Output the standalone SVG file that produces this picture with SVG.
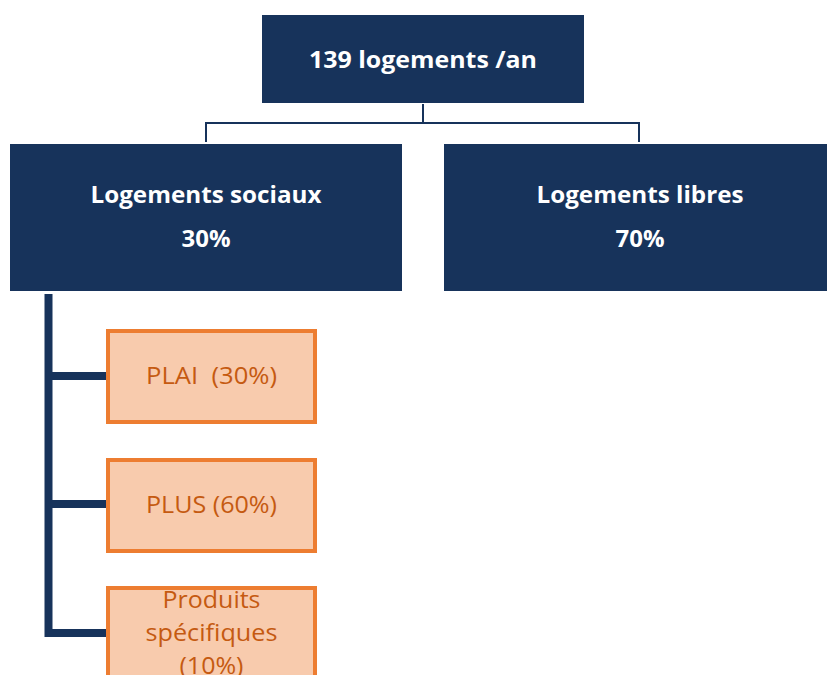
<svg xmlns="http://www.w3.org/2000/svg" width="827" height="675" viewBox="0 0 827 675">
<style>
.navy{fill:#17335B;}
.wt{fill:#FFFFFF;font-family:"Open Sans","Liberation Sans",sans-serif;font-weight:bold;font-size:23px;text-anchor:middle;}
.or{fill:#F8CBAD;stroke:#ED7D31;stroke-width:4;}
.ot{fill:#C55A11;font-family:"Open Sans","Liberation Sans",sans-serif;font-size:23px;text-anchor:middle;}
.thin{fill:none;stroke:#17335B;stroke-width:2;}
.thick{fill:none;stroke:#17335B;stroke-width:8;}
</style>
<rect width="827" height="675" fill="#FFFFFF"/>
<g id="connectors">
<path class="thin" d="M423,104 V123 M206,142 V123 H639 V142"/>
<path class="thick" d="M48.5,294 V633 H106 M48.5,376 H106 M48.5,504 H106"/>
</g>
<g id="n-total">
<rect class="navy" x="262" y="15" width="322" height="88"/>
<text class="wt" x="423" y="68" textLength="228" lengthAdjust="spacingAndGlyphs">139 logements /an</text>
</g>
<g id="n-sociaux">
<rect class="navy" x="10" y="144" width="392" height="147"/>
<text class="wt" x="206" y="203" textLength="231" lengthAdjust="spacingAndGlyphs">Logements sociaux</text>
<text class="wt" x="206" y="247" textLength="49" lengthAdjust="spacingAndGlyphs">30%</text>
</g>
<g id="n-libres">
<rect class="navy" x="444" y="144" width="383" height="147"/>
<text class="wt" x="640" y="203" textLength="207" lengthAdjust="spacingAndGlyphs">Logements libres</text>
<text class="wt" x="640" y="247" textLength="49" lengthAdjust="spacingAndGlyphs">70%</text>
</g>
<g id="n-plai">
<rect class="or" x="108" y="331" width="207" height="91"/>
<text class="ot" x="211.5" y="384" textLength="131" lengthAdjust="spacingAndGlyphs" xml:space="preserve">PLAI  (30%)</text>
</g>
<g id="n-plus">
<rect class="or" x="108" y="460" width="207" height="91"/>
<text class="ot" x="211.5" y="513" textLength="131" lengthAdjust="spacingAndGlyphs">PLUS (60%)</text>
</g>
<g id="n-produits">
<rect class="or" x="108" y="588" width="207" height="100"/>
<text class="ot" x="211.5" y="608" textLength="98" lengthAdjust="spacingAndGlyphs">Produits</text>
<text class="ot" x="211.5" y="641" textLength="132" lengthAdjust="spacingAndGlyphs">spécifiques</text>
<text class="ot" x="211.5" y="674" textLength="64" lengthAdjust="spacingAndGlyphs">(10%)</text>
</g>
</svg>
